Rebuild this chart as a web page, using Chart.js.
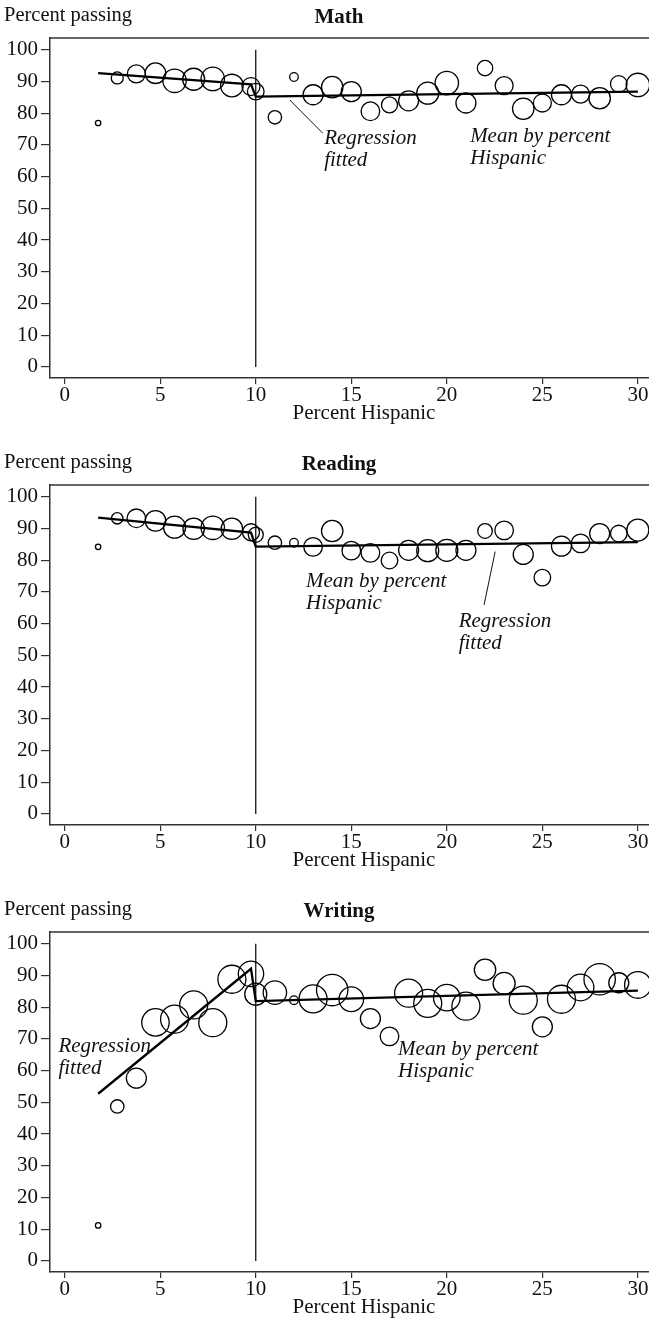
<!DOCTYPE html>
<html>
<head>
<meta charset="utf-8">
<script src="https://cdn.jsdelivr.net/npm/chart.js@4.4.1/dist/chart.umd.min.js"></script>
<style>
  html, body { margin: 0; padding: 0; background: #fff; }
  body { width: 649px; height: 1331px; overflow: hidden; }
  .panel { width: 649px; overflow: hidden; }
  canvas { display: block; }
</style>
</head>
<body>
<div class="panel" style="height:447px"><canvas id="math" width="678" height="447"></canvas></div>
<div class="panel" style="height:447px"><canvas id="reading" width="678" height="447"></canvas></div>
<div class="panel" style="height:437px"><canvas id="writing" width="678" height="437"></canvas></div>
<script>
// percent Hispanic of each group (same groups for all three tests)
const hispanicPct = [1.75, 2.75, 3.75, 4.75, 5.75, 6.75, 7.75, 8.75, 9.75, 10,
  11, 12, 13, 14, 15, 16, 17, 18, 19, 20, 21, 22, 23, 24, 25, 26, 27, 28, 29, 30];

// mean percent passing by percent Hispanic
const mathPass = [76.9, 91.1, 92.4, 92.6, 90.2, 90.7, 90.8, 88.7, 88.4, 86.8,
  78.7, 91.4, 85.8, 88.2, 86.8, 80.6, 82.6, 83.9, 86.3, 89.5,
  83.2, 94.2, 88.7, 81.4, 83.2, 85.8, 86.0, 84.7, 89.2, 88.9];
const readingPass = [84.2, 93.2, 93.2, 92.4, 90.4, 89.9, 90.2, 89.9, 88.8, 88.0,
  85.5, 85.5, 84.2, 89.2, 83.0, 82.3, 79.9, 83.1, 83.0, 83.1,
  83.1, 89.2, 89.4, 81.8, 74.5, 84.4, 85.3, 88.4, 88.4, 89.5];
const writingPass = [11.2, 48.7, 57.6, 75.2, 76.2, 80.7, 75.1, 88.8, 90.5, 84.1,
  84.6, 82.2, 82.6, 85.4, 82.5, 76.4, 70.8, 84.4, 81.2, 83.0,
  80.3, 91.8, 87.5, 82.2, 73.8, 82.5, 86.2, 88.8, 87.7, 87.0];

// bubble weights (radius)
const mathWeight = [2.7, 6, 9, 10.3, 11.7, 11, 11.7, 11.3, 9, 8.3,
  6.7, 4.3, 10, 10.7, 10, 9.3, 8, 10, 11, 11.7,
  10, 7.7, 9, 10.7, 9, 10, 9, 10.7, 8.3, 11.7];
const readingWeight = [2.7, 5.7, 9.3, 10.3, 11, 10.7, 11.7, 10.7, 8.5, 7.5,
  6.7, 4.3, 9.3, 10.7, 9.3, 9.3, 8.3, 10, 11, 11,
  10, 7.3, 9.3, 10, 8.3, 10, 9.3, 10, 8.3, 11];
const writingWeight = [2.7, 6.7, 10, 13.7, 14, 14, 14, 14, 12.7, 11,
  11.7, 4.3, 14, 15.7, 12.3, 10, 9.3, 14, 14, 13.3,
  14, 10.7, 11, 14, 10, 14, 13.3, 15.7, 10, 13.3];

// regression fitted, either side of the 10 percent cutoff
const fitX = [1.75, 9.75, 10, 30];
const mathFit = [92.6, 89.1, 85.2, 86.8];
const readingFit = [93.4, 88.7, 84.3, 85.7];
const writingFit = [52.7, 92.1, 81.9, 85.2];

const cutoff = 10;
const xTicks = [0, 5, 10, 15, 20, 25, 30];
const yTicks = [0, 10, 20, 30, 40, 50, 60, 70, 80, 90, 100];

const serif = '"Liberation Serif", "Times New Roman", serif';
const ink = '#111';
const axisColor = '#333';

// text notes, placed in data units
const mathNotes = [
  { x: 13.58, y: 70.3, lines: ['Regression', 'fitted'], from: [11.78, 84.15], to: [13.51, 73.65] },
  { x: 21.22, y: 71.0, lines: ['Mean by percent', 'Hispanic'] }
];
const readingNotes = [
  { x: 12.63, y: 71.6, lines: ['Mean by percent', 'Hispanic'] },
  { x: 20.62, y: 59.0, lines: ['Regression', 'fitted'], from: [22.53, 82.7], to: [21.95, 65.9] }
];
const writingNotes = [
  { x: -0.33, y: 66.0, lines: ['Regression', 'fitted'] },
  { x: 17.45, y: 64.9, lines: ['Mean by percent', 'Hispanic'] }
];

const panelText = {
  id: 'panelText',
  afterDraw(chart, args, opts) {
    const { ctx, chartArea } = chart;
    const xs = chart.scales.x, ys = chart.scales.y;
    ctx.save();
    // top and right of the frame
    ctx.strokeStyle = axisColor;
    ctx.lineWidth = 1.5;
    ctx.beginPath();
    ctx.moveTo(chartArea.left, chartArea.top);
    ctx.lineTo(chartArea.right, chartArea.top);
    ctx.lineTo(chartArea.right, chartArea.bottom);
    ctx.stroke();

    ctx.fillStyle = ink;
    ctx.textBaseline = 'alphabetic';
    ctx.textAlign = 'left';
    ctx.font = '20.5px ' + serif;
    ctx.fillText('Percent passing', 4, 21);

    ctx.textAlign = 'center';
    ctx.font = 'bold 21px ' + serif;
    ctx.fillText(opts.title, chart.width / 2, 23);

    ctx.textAlign = 'left';
    ctx.font = 'italic 21px ' + serif;
    opts.notes.forEach(n => {
      const px = xs.getPixelForValue(n.x);
      const py = ys.getPixelForValue(n.y);
      n.lines.forEach((t, i) => ctx.fillText(t, px, py + i * 22));
      if (n.from) {
        ctx.lineWidth = 1;
        ctx.strokeStyle = ink;
        ctx.beginPath();
        ctx.moveTo(xs.getPixelForValue(n.from[0]), ys.getPixelForValue(n.from[1]));
        ctx.lineTo(xs.getPixelForValue(n.to[0]), ys.getPixelForValue(n.to[1]));
        ctx.stroke();
      }
    });
    ctx.restore();
  }
};

function makePanel(id, title, pass, weight, fit, notes, height) {
  const bubbles = hispanicPct.map((x, i) => ({ x: x, y: pass[i], r: weight[i] }));
  const fitted = fitX.map((x, i) => ({ x: x, y: fit[i] }));
  const cutLine = [{ x: cutoff, y: yTicks[0] }, { x: cutoff, y: yTicks[yTicks.length - 1] }];

  new Chart(document.getElementById(id), {
    type: 'bubble',
    data: {
      datasets: [
        {
          type: 'line', data: fitted, borderColor: '#000', borderWidth: 2.3,
          pointRadius: 0, fill: false, tension: 0, order: 0
        },
        {
          type: 'line', data: cutLine, borderColor: '#000', borderWidth: 1.2,
          pointRadius: 0, fill: false, order: 0
        },
        {
          data: bubbles, backgroundColor: 'rgba(0,0,0,0)', borderColor: '#000',
          borderWidth: 1.3, order: 1
        }
      ]
    },
    options: {
      responsive: false,
      animation: false,
      events: [],
      layout: { autoPadding: false, padding: { top: 38, left: 0, right: 0, bottom: height - 378 - 46 } },
      plugins: {
        legend: { display: false },
        tooltip: { enabled: false },
        panelText: { title: title, notes: notes }
      },
      scales: {
        x: {
          type: 'linear', min: -0.77, max: 32.1,
          afterBuildTicks: s => { s.ticks = xTicks.map(v => ({ value: v })); },
          afterFit: s => { s.height = 46; },
          grid: { drawOnChartArea: false, tickLength: 6, color: axisColor, lineWidth: 1.2 },
          border: { color: axisColor, width: 1.5 },
          ticks: { font: { family: serif, size: 21, lineHeight: 1 }, color: ink, padding: 1, maxRotation: 0, autoSkip: false },
          title: { display: true, text: 'Percent Hispanic', font: { family: serif, size: 21, lineHeight: 1 }, color: ink, padding: 0 }
        },
        y: {
          type: 'linear', min: -3.5, max: 103.7,
          afterBuildTicks: s => { s.ticks = yTicks.map(v => ({ value: v })); },
          afterFit: s => { s.width = 50; },
          grid: { drawOnChartArea: false, tickLength: 9, color: axisColor, lineWidth: 1.2 },
          border: { color: axisColor, width: 1.5 },
          ticks: { font: { family: serif, size: 21, lineHeight: 1 }, color: ink, padding: 3, autoSkip: false }
        }
      }
    },
    plugins: [panelText]
  });
}

makePanel('math', 'Math', mathPass, mathWeight, mathFit, mathNotes, 447);
makePanel('reading', 'Reading', readingPass, readingWeight, readingFit, readingNotes, 447);
makePanel('writing', 'Writing', writingPass, writingWeight, writingFit, writingNotes, 437);
</script>
</body>
</html>
